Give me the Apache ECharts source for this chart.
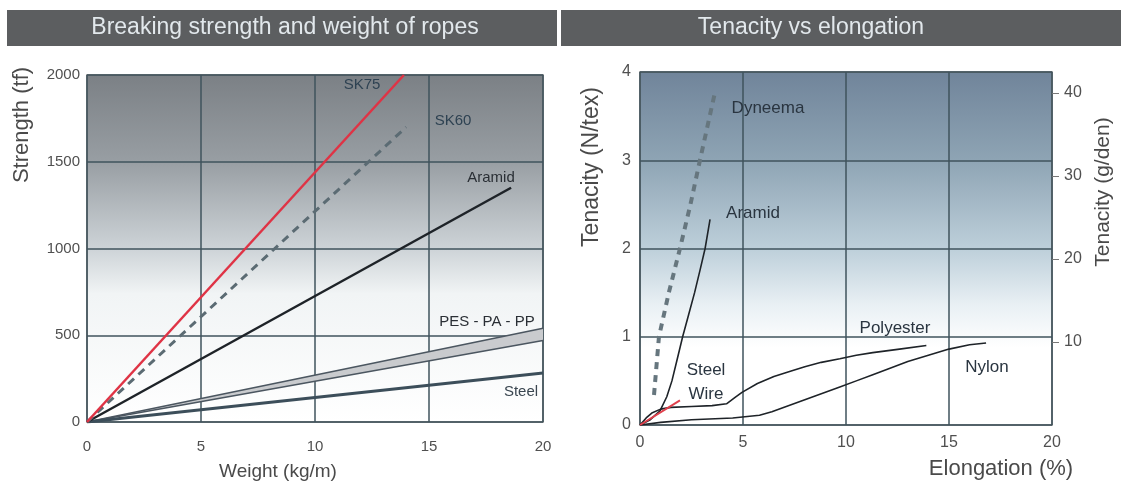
<!DOCTYPE html>
<html>
<head>
<meta charset="utf-8">
<script src="https://cdn.jsdelivr.net/npm/echarts@6/dist/echarts.min.js"></script>
<style>
html,body{margin:0;padding:0;background:#fff;}
#chart{width:1121px;height:485px;}
</style>
</head>
<body>
<div id="chart"></div>
<script>
// ---- Left chart: Breaking strength vs weight ----
const weightTicks = [0, 5, 10, 15, 20];
const strengthTicks = [0, 500, 1000, 1500, 2000];
const sk75 = [[0, 0], [13.9, 2000]];
const sk60 = [[0, 0], [14.0, 1700]];
const aramidRope = [[0, 0], [18.6, 1350]];
const pesUpper = [[0, 0], [20, 540]];
const pesLower = [[0, 0], [20, 470]];
const steelRope = [[0, 0], [20, 282]];

// ---- Right chart: Tenacity vs elongation ----
const elongTicks = [0, 5, 10, 15, 20];
const tenacityTicks = [0, 1, 2, 3, 4];
const gdenTicks = [10, 20, 30, 40];
const dyneema = [[0.68, 0.34], [0.92, 1.0], [1.4, 1.5], [1.94, 2.0], [2.45, 2.5], [2.91, 3.0], [3.64, 3.77]];
const aramidFibre = [[0, 0], [0.5, 0.06], [0.97, 0.16], [1.3, 0.32], [1.55, 0.5], [1.8, 0.74], [2.07, 1.0], [2.36, 1.25], [2.65, 1.5], [2.92, 1.76], [3.16, 2.0], [3.4, 2.33]];
const steelWire = [[0, 0], [1.94, 0.28]];
const polyester = [[0, 0], [0.3, 0.08], [0.6, 0.14], [1, 0.18], [1.5, 0.2], [2.5, 0.21], [3.5, 0.22], [4.2, 0.24], [4.6, 0.31], [4.95, 0.37], [5.7, 0.47], [6.5, 0.55], [7.3, 0.61], [8, 0.66], [8.8, 0.71], [9.7, 0.75], [10.5, 0.79], [11.3, 0.82], [12.6, 0.86], [13.9, 0.9]];
const nylon = [[0, 0], [1, 0.03], [2.5, 0.06], [4.5, 0.08], [5.8, 0.11], [6.4, 0.15], [7, 0.2], [7.8, 0.27], [8.5, 0.33], [9.7, 0.43], [10.5, 0.5], [11.3, 0.57], [12.2, 0.65], [13, 0.72], [14, 0.79], [15, 0.86], [16, 0.91], [16.8, 0.93]];

const FONT = '"Liberation Sans", Arial, sans-serif';
const chart = echarts.init(document.getElementById('chart'), null, {renderer: 'canvas'});

const splitLine = {show: true, lineStyle: {color: '#3f535c', width: 1.5}};
const tickLbl = {color: '#505050', fontFamily: FONT, fontSize: 15, formatter: v => String(v)};

function bg(stops) {
  return {type: 'linear', x: 0, y: 0, x2: 0, y2: 1,
    colorStops: stops.map(s => ({offset: s[0], color: s[1]}))};
}
function txt(x, y, s, size, color, rot) {
  const o = {type: 'text', x: x, y: y, z: 10,
    style: {text: s, fill: color, font: size + 'px ' + FONT, textAlign: 'center', textVerticalAlign: 'middle'}};
  if (rot) o.rotation = rot;
  return o;
}

const option = {
  animation: false,
  backgroundColor: '#ffffff',
  grid: [
    {left: 87, top: 75, width: 456, height: 347, show: true, borderColor: '#6e6e6e', borderWidth: 1.5,
     backgroundColor: bg([[0, '#7b8085'], [0.25, '#989ea3'], [0.5, '#cdd3d7'], [0.63, '#f1f4f5'], [1, '#ffffff']])},
    {left: 640, top: 72, width: 412, height: 353, show: true, borderColor: '#6e6e6e', borderWidth: 1.5,
     backgroundColor: bg([[0, '#70849a'], [0.25, '#8ea4b4'], [0.5, '#bdcfda'], [0.66, '#e9f0f4'], [0.78, '#ffffff'], [1, '#ffffff']])}
  ],
  xAxis: [
    {type: 'value', gridIndex: 0, min: weightTicks[0], max: weightTicks[weightTicks.length - 1], interval: 5,
     axisLine: {show: false}, axisTick: {show: false}, splitLine: splitLine,
     axisLabel: Object.assign({}, tickLbl, {margin: 17})},
    {type: 'value', gridIndex: 1, min: elongTicks[0], max: elongTicks[elongTicks.length - 1], interval: 5,
     axisLine: {show: false}, axisTick: {show: false}, splitLine: splitLine,
     axisLabel: Object.assign({}, tickLbl, {margin: 10, fontSize: 16})}
  ],
  yAxis: [
    {type: 'value', gridIndex: 0, min: strengthTicks[0], max: strengthTicks[strengthTicks.length - 1], interval: 500,
     axisLine: {show: false}, axisTick: {show: false}, splitLine: splitLine,
     axisLabel: Object.assign({}, tickLbl, {margin: 7})},
    {type: 'value', gridIndex: 1, min: tenacityTicks[0], max: tenacityTicks[tenacityTicks.length - 1], interval: 1,
     axisLine: {show: false}, axisTick: {show: false}, splitLine: splitLine,
     axisLabel: Object.assign({}, tickLbl, {margin: 9, fontSize: 16})},
    {type: 'value', gridIndex: 1, position: 'right', min: 0, max: 42.5,
     axisLine: {show: false}, splitLine: {show: false},
     axisTick: {show: true, length: 7, customValues: gdenTicks, lineStyle: {color: '#777', width: 1}},
     axisLabel: Object.assign({}, tickLbl, {margin: 12, fontSize: 16, customValues: gdenTicks})}
  ],
  series: [
    {type: 'custom', xAxisIndex: 0, yAxisIndex: 0, data: [[0, 0]], silent: true, z: 3,
     renderItem: function (params, api) {
       const pts = pesUpper.map(p => api.coord(p)).concat(pesLower.slice().reverse().map(p => api.coord(p)));
       return {type: 'polygon', shape: {points: pts}, style: {fill: '#c9cbce', stroke: null}};
     }},
    {type: 'line', xAxisIndex: 0, yAxisIndex: 0, data: pesUpper, showSymbol: false, z: 4,
     lineStyle: {color: '#4b5660', width: 1.5}},
    {type: 'line', xAxisIndex: 0, yAxisIndex: 0, data: pesLower, showSymbol: false, z: 4,
     lineStyle: {color: '#4b5660', width: 1.5}},
    {type: 'line', xAxisIndex: 0, yAxisIndex: 0, data: steelRope, showSymbol: false, z: 4,
     lineStyle: {color: '#3c4e5a', width: 3}},
    {type: 'line', xAxisIndex: 0, yAxisIndex: 0, data: aramidRope, showSymbol: false, z: 4,
     lineStyle: {color: '#1e2328', width: 2.5}},
    {type: 'line', xAxisIndex: 0, yAxisIndex: 0, data: sk60, showSymbol: false, z: 4,
     lineStyle: {color: '#5b6b73', width: 3, type: [8, 6]}},
    {type: 'line', xAxisIndex: 0, yAxisIndex: 0, data: sk75, showSymbol: false, z: 5,
     lineStyle: {color: '#df3345', width: 2.5}},

    {type: 'line', xAxisIndex: 1, yAxisIndex: 1, data: dyneema, showSymbol: false, z: 4,
     lineStyle: {color: '#66767e', width: 4, type: [7, 6]}},
    {type: 'line', xAxisIndex: 1, yAxisIndex: 1, data: aramidFibre, showSymbol: false, z: 4,
     lineStyle: {color: '#1e2328', width: 1.6, join: 'round'}},
    {type: 'line', xAxisIndex: 1, yAxisIndex: 1, data: polyester, showSymbol: false, z: 4,
     lineStyle: {color: '#1e2328', width: 1.6, join: 'round'}},
    {type: 'line', xAxisIndex: 1, yAxisIndex: 1, data: nylon, showSymbol: false, z: 4,
     lineStyle: {color: '#1e2328', width: 1.6, join: 'round'}},
    {type: 'line', xAxisIndex: 1, yAxisIndex: 1, data: steelWire, showSymbol: false, z: 5,
     lineStyle: {color: '#e0404c', width: 2}}
  ],
  graphic: [
    {type: 'rect', shape: {x: 7, y: 10, width: 550, height: 36}, style: {fill: '#5c5e60'}},
    {type: 'rect', shape: {x: 561, y: 10, width: 560, height: 36}, style: {fill: '#5c5e60'}},
    txt(285, 28, 'Breaking strength and weight of ropes', 23, '#e2e8ec'),
    txt(811, 28, 'Tenacity vs elongation', 23, '#e2e8ec'),

    txt(22, 125, 'Strength (tf)', 22, '#4a4a4a', Math.PI / 2),
    txt(278, 472, 'Weight (kg/m)', 19, '#4a4a4a'),
    txt(592, 167, 'Tenacity (N/tex)', 23, '#4a4a4a', Math.PI / 2),
    txt(1103, 192, 'Tenacity (g/den)', 21, '#4a4a4a', Math.PI / 2),
    txt(1001, 469, 'Elongation (%)', 22, '#4a4a4a'),

    txt(362, 85, 'SK75', 15, '#2e4252'),
    txt(453, 121, 'SK60', 15, '#2e4252'),
    txt(491, 178, 'Aramid', 15, '#2a2f35'),
    txt(487, 322, 'PES - PA - PP', 15, '#2a2f35'),
    txt(521, 392, 'Steel', 15, '#3a4650'),

    txt(768, 108, 'Dyneema', 17, '#2a3540'),
    txt(753, 213, 'Aramid', 17, '#2a3540'),
    txt(706, 370, 'Steel', 17, '#2a3540'),
    txt(706, 394, 'Wire', 17, '#2a3540'),
    txt(895, 328, 'Polyester', 17, '#2a3540'),
    txt(987, 367, 'Nylon', 17, '#2a3540')
  ]
};
chart.setOption(option);
</script>
</body>
</html>
